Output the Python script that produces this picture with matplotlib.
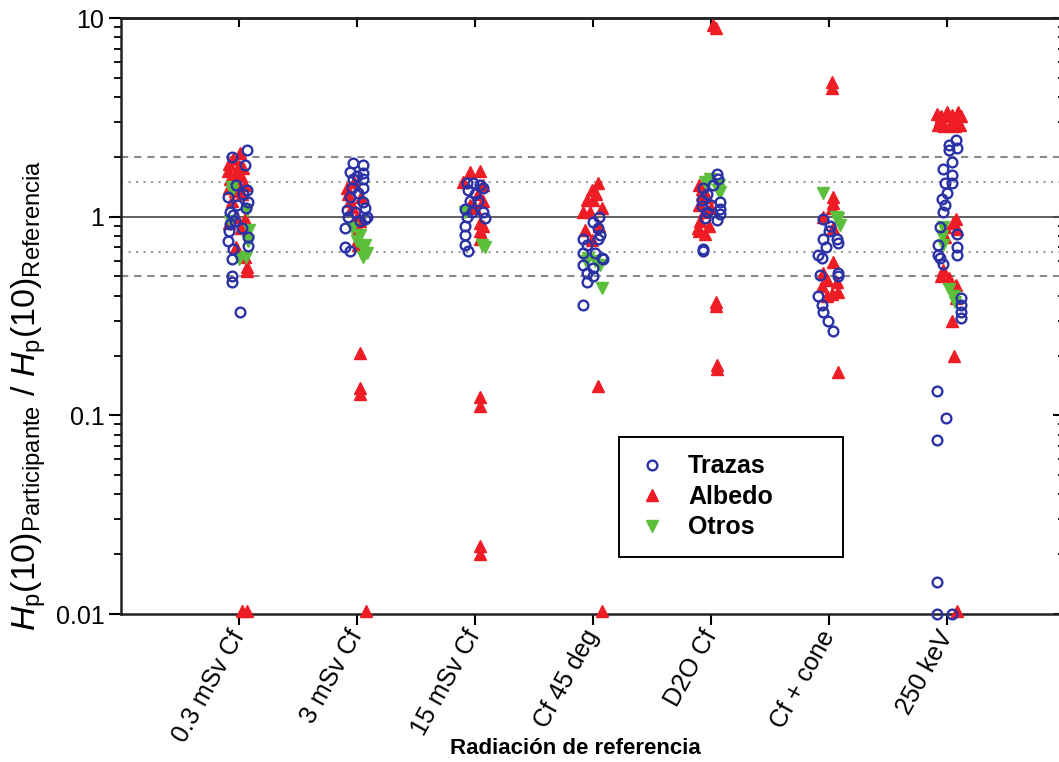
import matplotlib
matplotlib.use("Agg")
import matplotlib.pyplot as plt
from matplotlib import font_manager as fm
import numpy as np

# ---------------- data ----------------
categories = ["0.3 mSv Cf", "3 mSv Cf", "15 mSv Cf", "Cf 45 deg", "D2O Cf", "Cf + cone", "250 keV"]
y_ticks = [0.01, 0.1, 1, 10]
y_tick_labels = ["0.01", "0.1", "1", "10"]
ref_solid = [1.0]
ref_dashed = [2.0, 0.5]
ref_dotted = [1.5, 0.667]

# (category index 1..7, jitter in category units, value)
trazas = [
    (1, 0.07, 2.17), (1, -0.06, 2.0), (1, 0.05, 1.83), (1, 0.07, 1.37), (1, -0.09, 1.25), (1, 0.08, 1.19),
    (1, -0.01, 1.15), (1, -0.07, 1.05), (1, -0.05, 1.02), (1, -0.03, 0.95), (1, -0.07, 0.92), (1, 0.08, 0.79),
    (1, -0.09, 0.75), (1, 0.08, 0.71), (1, -0.05, 0.69), (1, -0.06, 0.61), (1, -0.06, 0.50), (1, -0.06, 0.47),
    (1, 0.01, 0.33), (1, -0.02, 1.45), (1, 0.04, 1.3), (1, -0.08, 0.85), (1, 0.03, 0.88), (1, 0.06, 1.1),
    (2, -0.03, 1.87), (2, 0.056, 1.83), (2, -0.057, 1.68), (2, 0.056, 1.66), (2, -0.03, 1.54), (2, 0.056, 1.54),
    (2, -0.04, 1.40), (2, 0.056, 1.40), (2, 0.01, 1.32), (2, 0.056, 1.19), (2, 0.07, 1.11), (2, -0.085, 1.08),
    (2, 0.085, 1.0), (2, -0.015, 1.06), (2, -0.1, 0.88), (2, -0.1, 0.70), (2, -0.057, 0.67), (2, 0.07, 0.97),
    (2, -0.06, 1.25), (2, 0.0, 1.6), (2, -0.07, 1.0), (2, 0.03, 0.95),
    (3, -0.07, 1.48), (3, -0.013, 1.48), (3, 0.044, 1.45), (3, -0.055, 1.37), (3, 0.0, 1.3), (3, -0.083, 1.09),
    (3, -0.027, 1.05), (3, 0.072, 1.06), (3, 0.086, 0.98), (3, -0.083, 0.90), (3, -0.083, 0.81), (3, -0.083, 0.72),
    (3, -0.055, 0.67), (3, 0.03, 1.2), (3, -0.04, 1.2), (3, 0.07, 1.4), (3, -0.07, 1.0),
    (4, 0.054, 1.0), (4, 0.003, 0.94), (4, 0.06, 0.81), (4, -0.081, 0.77), (4, 0.046, 0.77), (4, -0.081, 0.66),
    (4, 0.018, 0.66), (4, 0.075, 0.62), (4, 0.088, 0.61), (4, -0.081, 0.57), (4, 0.003, 0.55), (4, -0.053, 0.52),
    (4, 0.003, 0.50), (4, -0.053, 0.47), (4, -0.087, 0.36), (4, 0.04, 0.88), (4, -0.05, 0.72),
    (5, 0.054, 1.64), (5, 0.063, 1.55), (5, 0.076, 1.18), (5, 0.076, 1.09), (5, 0.076, 1.03), (5, 0.048, 0.96),
    (5, -0.065, 0.67), (5, -0.079, 1.22), (5, -0.079, 1.13), (5, -0.036, 1.05), (5, -0.065, 1.4), (5, -0.036, 1.3),
    (5, 0.0, 1.15), (5, -0.05, 0.98), (5, 0.02, 1.45), (5, -0.07, 0.69),
    (6, -0.049, 0.97), (6, 0.008, 0.90), (6, 0.064, 0.77), (6, -0.049, 0.77), (6, 0.078, 0.74), (6, -0.092, 0.64),
    (6, -0.063, 0.62), (6, 0.078, 0.52), (6, 0.078, 0.50), (6, -0.078, 0.51), (6, -0.092, 0.40), (6, -0.063, 0.36),
    (6, -0.049, 0.33), (6, -0.007, 0.30), (6, 0.036, 0.265), (6, 0.0, 0.85), (6, -0.03, 0.7),
    (7, 0.071, 2.44), (7, 0.012, 2.3), (7, 0.087, 2.22), (7, 0.012, 2.17), (7, 0.041, 1.89), (7, -0.033, 1.74),
    (7, 0.041, 1.63), (7, -0.018, 1.48), (7, 0.041, 1.48), (7, -0.003, 1.31), (7, -0.047, 1.23), (7, -0.018, 1.14),
    (7, -0.033, 1.05), (7, -0.063, 0.89), (7, 0.087, 0.82), (7, -0.077, 0.72), (7, 0.087, 0.70), (7, 0.087, 0.64),
    (7, -0.077, 0.64), (7, -0.063, 0.62), (7, -0.033, 0.58), (7, 0.116, 0.39), (7, 0.116, 0.36), (7, 0.116, 0.33),
    (7, 0.116, 0.31), (7, -0.09, 0.132), (7, -0.01, 0.097), (7, -0.09, 0.075), (7, -0.09, 0.0145),
    (7, -0.09, 0.01), (7, 0.037, 0.01),
]

albedo = [
    (1, 0.01, 2.1), (1, -0.05, 1.95), (1, -0.08, 1.85), (1, 0.0, 1.8), (1, 0.04, 1.75), (1, -0.09, 1.7),
    (1, -0.03, 1.65), (1, 0.02, 1.6), (1, -0.07, 1.55), (1, -0.01, 1.5), (1, 0.05, 1.45), (1, -0.08, 1.4),
    (1, -0.03, 1.35), (1, 0.03, 1.3), (1, -0.06, 1.2), (1, -0.02, 1.0), (1, 0.05, 0.97), (1, -0.08, 0.93),
    (1, 0.02, 0.88), (1, 0.05, 0.63), (1, 0.07, 0.56), (1, 0.07, 0.53), (1, -0.02, 0.70),
    (1, 0.025, 0.0104), (1, 0.07, 0.0104),
    (2, -0.085, 1.4), (2, -0.07, 1.3), (2, -0.057, 1.2), (2, -0.04, 1.12), (2, 0.0, 1.0), (2, 0.03, 0.95),
    (2, 0.01, 0.88), (2, 0.01, 0.77), (2, 0.01, 0.72), (2, 0.03, 0.207), (2, 0.03, 0.137), (2, 0.03, 0.128),
    (2, 0.04, 1.25), (2, -0.02, 1.5), (2, 0.08, 0.0104),
    (3, -0.04, 1.68), (3, 0.044, 1.70), (3, -0.097, 1.5), (3, 0.072, 1.45), (3, 0.03, 1.3), (3, 0.072, 1.2),
    (3, -0.04, 1.15), (3, 0.0, 1.1), (3, 0.044, 0.93), (3, 0.072, 0.9), (3, 0.044, 0.85), (3, 0.058, 0.8),
    (3, 0.044, 0.77), (3, 0.044, 0.123), (3, 0.044, 0.112), (3, 0.044, 0.0219), (3, 0.044, 0.0200),
    (4, 0.046, 1.48), (4, -0.01, 1.37), (4, -0.053, 1.22), (4, 0.003, 1.22), (4, 0.075, 1.11), (4, -0.081, 1.06),
    (4, -0.025, 1.06), (4, -0.067, 0.86), (4, -0.01, 0.76), (4, 0.03, 1.3), (4, 0.05, 0.9),
    (4, 0.046, 0.14), (4, 0.075, 0.0104),
    (5, 0.02, 9.2), (5, 0.04, 8.9),
    (5, -0.1, 1.45), (5, -0.08, 1.3), (5, -0.1, 1.15), (5, -0.06, 1.05), (5, -0.09, 0.95), (5, -0.1, 0.85),
    (5, -0.05, 0.82), (5, -0.02, 0.9), (5, 0.0, 1.1), (5, -0.03, 1.25), (5, -0.08, 1.38), (5, -0.11, 0.88),
    (5, 0.04, 0.37), (5, 0.04, 0.355), (5, 0.055, 0.18), (5, 0.055, 0.172),
    (6, 0.036, 1.26), (6, 0.036, 1.17), (6, 0.022, 1.1), (6, -0.049, 1.0), (6, 0.036, 0.59), (6, -0.049, 0.52),
    (6, -0.02, 0.48), (6, 0.064, 0.47), (6, 0.022, 0.41), (6, 0.078, 0.42), (6, -0.02, 0.40), (6, -0.06, 0.45),
    (6, 0.03, 0.88), (6, 0.025, 4.77), (6, 0.025, 4.45), (6, 0.078, 0.165),
    (7, -0.09, 3.3), (7, -0.05, 3.2), (7, 0.0, 3.35), (7, 0.04, 3.25), (7, 0.09, 3.35), (7, 0.116, 3.2),
    (7, -0.08, 2.9), (7, -0.03, 2.85), (7, 0.03, 2.95), (7, 0.07, 2.85), (7, 0.11, 2.9), (7, -0.06, 3.05),
    (7, 0.06, 3.1), (7, 0.071, 0.97), (7, -0.018, 0.89), (7, 0.087, 0.87), (7, -0.018, 0.79), (7, -0.033, 0.54),
    (7, 0.012, 0.49), (7, 0.071, 0.455), (7, 0.071, 0.39), (7, 0.041, 0.30), (7, 0.06, 0.198), (7, 0.05, 0.93),
    (7, -0.05, 0.5), (7, 0.087, 0.0104),
]

otros = [
    (1, -0.06, 1.41), (1, 0.07, 1.08), (1, 0.09, 0.86), (1, 0.06, 0.63), (1, 0.0, 0.61), (1, -0.06, 1.35),
    (1, 0.08, 0.75), (1, -0.07, 0.95),
    (2, -0.04, 0.88), (2, 0.0, 0.75), (2, 0.07, 0.72), (2, 0.085, 0.66), (2, 0.056, 0.63), (2, 0.03, 0.81),
    (2, 0.05, 0.69),
    (3, 0.058, 0.72), (3, 0.086, 0.70), (3, -0.083, 1.05),
    (4, -0.039, 0.62), (4, 0.018, 0.60), (4, 0.06, 0.57), (4, 0.075, 0.44), (4, -0.06, 0.60),
    (5, 0.063, 1.37), (5, 0.076, 1.33), (5, -0.008, 1.55), (5, 0.07, 1.45), (5, -0.05, 1.5),
    (6, -0.049, 1.32), (6, 0.078, 0.98), (6, 0.09, 0.91), (6, 0.06, 1.0),
    (7, -0.033, 0.89), (7, -0.033, 0.72), (7, 0.012, 0.43), (7, 0.06, 0.40), (7, 0.07, 0.37), (7, -0.04, 0.80),
]

# ---------------- style ----------------
names = {f.name for f in fm.fontManager.ttflist}
narrow = "Liberation Sans Narrow" if "Liberation Sans Narrow" in names else "Liberation Sans"

plt.rcParams["font.family"] = ["Liberation Sans", "DejaVu Sans"]
plt.rcParams["mathtext.fontset"] = "custom"
plt.rcParams["mathtext.rm"] = "Liberation Sans"
plt.rcParams["mathtext.it"] = "Liberation Sans:italic"
plt.rcParams["mathtext.sf"] = narrow

BLUE = "#2b32a6"
RED = "#ee1c24"
GREEN = "#5cbf3c"
PT = 72 / 100  # points per pixel at dpi 100

W, H = 1059, 762
fig = plt.figure(figsize=(W / 100, H / 100), dpi=100)
left_px, right_px, top_px, bot_px = 120.5, 1065.3, 18, 614
ax = fig.add_axes([left_px / W, 1 - bot_px / H, (right_px - left_px) / W, (bot_px - top_px) / H])

ax.set_yscale("log")
ax.set_ylim(0.01, 10)
ax.set_xlim(0, len(categories) + 1)

for v in ref_solid:
    ax.axhline(v, color="#555555", lw=1.3, zorder=1)
for v in ref_dashed:
    ax.axhline(v, color="#8a8a8a", lw=1.5, ls=(0, (3.5, 2.8)), zorder=1)
for v in ref_dotted:
    ax.axhline(v, color="#9a9a9a", lw=1.5, ls=(0, (1.0, 2.6)), zorder=1)


def xy(points):
    x = np.array([c + d for c, d, _ in points])
    y = np.array([v for _, _, v in points])
    return x, y


xa, ya = xy(albedo)
h_alb, = ax.plot(xa, ya, ls="none", marker="^", ms=8.5, color=RED, mec=RED, label="Albedo",
                 zorder=3, clip_on=False)
xo, yo = xy(otros)
h_otr, = ax.plot(xo, yo, ls="none", marker="v", ms=8.5, color=GREEN, mec=GREEN, label="Otros",
                 zorder=3, clip_on=False)
xt, yt = xy(trazas)
h_tra, = ax.plot(xt, yt, ls="none", marker="o", ms=7, mfc="none", mec=BLUE, mew=1.7, label="Trazas",
                 zorder=4, clip_on=False)

# ticks
ax.set_yticks(y_ticks)
ax.set_yticklabels(y_tick_labels, fontsize=18)
ax.set_xticks(np.arange(1, len(categories) + 1))
ax.set_xticklabels(categories, fontsize=18, rotation=61, ha="right", va="center", rotation_mode="anchor")
ax.tick_params(axis="y", which="major", direction="out", length=12 * PT, width=1.5, pad=3)
ax.tick_params(axis="y", which="minor", direction="out", length=7 * PT, width=1.3)
ax.tick_params(axis="x", which="major", direction="out", length=11 * PT, width=1.5, pad=5)
ax.tick_params(axis="x", which="minor", bottom=False, top=False)

secy = ax.secondary_yaxis("right")
secy.tick_params(axis="y", which="major", direction="in", length=12 * PT, width=1.5, labelright=False)
secy.tick_params(axis="y", which="minor", direction="in", length=7 * PT, width=1.3, labelright=False)
secx = ax.secondary_xaxis("top")
secx.set_xticks(np.arange(1, len(categories) + 1))
secx.tick_params(axis="x", which="major", direction="in", length=9 * PT, width=1.5, labeltop=False)
secx.tick_params(axis="x", which="minor", top=False)

for a in (ax, secx, secy):
    for s in a.spines.values():
        s.set_linewidth(1.8)
        s.set_color("#222222")

# legend
leg = ax.legend(handles=[h_tra, h_alb, h_otr], loc="upper left",
                bbox_to_anchor=(0.528, 0.099, 0.237, 0.198), mode="expand",
                prop={"weight": "bold", "size": 18}, frameon=True, fancybox=False,
                edgecolor="black", framealpha=1, borderpad=0.7, labelspacing=0.26,
                handlelength=1.2, handletextpad=0.85, borderaxespad=0)
leg.get_frame().set_linewidth(1.4)
leg.set_zorder(6)

# axis labels
fig.text(575 / W, 1 - 748 / H, "Radiación de referencia", ha="center", va="center",
         fontsize=16, fontweight="bold", family=[narrow, "Liberation Sans"])
ylab = (r"$\mathit{H}_\mathsf{p}(10)_\mathsf{Participante}\ /\ "
        r"\mathit{H}_\mathsf{p}(10)_\mathsf{Referencia}$")
fig.text(29 / W, 1 - 396 / H, ylab, rotation=90, ha="center", va="center", fontsize=24.5)

fig.savefig("out.png", dpi=100)
